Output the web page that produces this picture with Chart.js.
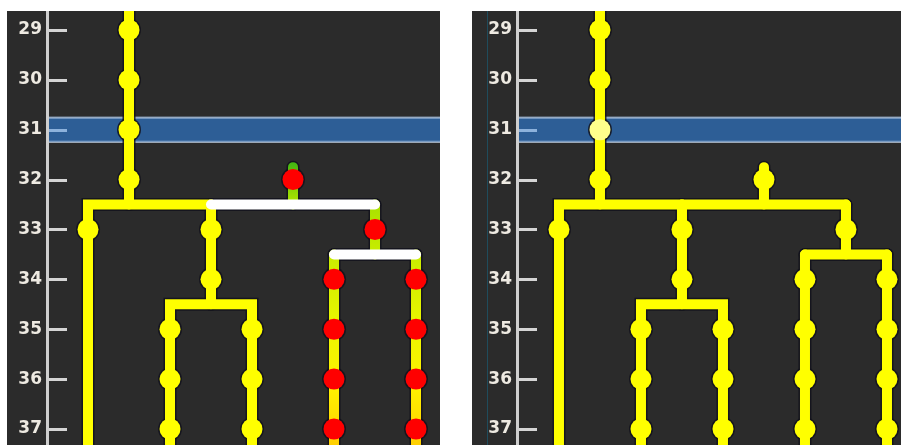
<!DOCTYPE html>
<html><head><meta charset="utf-8">
<script src="https://cdn.jsdelivr.net/npm/chart.js@4.4.1/dist/chart.umd.min.js"></script>
<style>
html,body{margin:0;padding:0;background:#fff;width:901px;height:445px;overflow:hidden;}
.panel{position:absolute;top:11px;height:434px;background:#2b2b2b;}
#p1{left:7px;width:433px;}
#p2{left:472px;width:429px;}
canvas{display:block;}
</style></head><body>
<div class="panel" id="p1"><canvas id="c1" width="433" height="434"></canvas></div>
<div class="panel" id="p2"><canvas id="c2" width="429" height="434"></canvas></div>
<script>
// ---- data: rows (y) and tree columns (x) ----
const yTicks = [29, 30, 31, 32, 33, 34, 35, 36, 37];
const selectedRow = 31;

// edges of the tree, as polylines of [column, row]
const trunk        = [[1, 28.3], [1, 32.5]];
const leftBar      = [[0, 37.8], [0, 32.5], [3, 32.5]];
const midStem      = [[3, 32.5], [3, 34.5]];
const midSub       = [[2, 37.8], [2, 34.5], [4, 34.5], [4, 37.8]];
const rightBar     = [[3, 32.5], [7, 32.5]];
const stub         = [[5, 31.75], [5, 32.5]];
const rightStem    = [[7, 32.5], [7, 33.5]];
const rightSubBar  = [[6, 33.5], [8, 33.5]];
const rightSubL    = [[6, 33.5], [6, 37.8]];
const rightSubR    = [[8, 33.5], [8, 37.8]];

// nodes [column, row]
const trunkNodes  = [[1, 29], [1, 30], [1, 31], [1, 32]];
const plainNodes  = [[0, 33], [3, 33], [3, 34], [2, 35], [2, 36], [2, 37], [4, 35], [4, 36], [4, 37]];
const markedNodes = [[5, 32], [7, 33], [6, 34], [6, 35], [6, 36], [6, 37], [8, 34], [8, 35], [8, 36], [8, 37]];

// ---- styling helpers ----
const YEL = '#ffff00', PALE = '#ffff8c', RED = '#ff0000', WHITE = '#ffffff', OUT = 'rgba(18,18,28,0.85)';
const LW = 10, NR = 10.5;

function greenGrad(ctx) {
  const c = ctx.chart, a = c.chartArea;
  if (!a) return '#ccee00';
  const g = c.ctx.createLinearGradient(0, a.top, 0, a.bottom);
  g.addColorStop(0.0, '#3cb414');
  g.addColorStop(0.343, '#3cb414');
  g.addColorStop(0.435, '#a6e000');
  g.addColorStop(0.55, '#c6ec00');
  g.addColorStop(0.735, '#ecf600');
  g.addColorStop(0.873, '#fff000');
  g.addColorStop(1.0, '#ffcf00');
  return g;
}
const toXY = pts => pts.map(([x, y]) => ({x, y}));
function lineDs(pts, color, width, order) {
  return {type: 'scatter', data: toXY(pts), showLine: true, borderColor: color, borderWidth: width,
    pointRadius: 0, pointHoverRadius: 0, borderCapStyle: 'round', borderJoinStyle: 'miter', order};
}
function nodeDs(pts, color, r, order) {
  return {type: 'scatter', data: toXY(pts), showLine: false, pointRadius: r, pointHoverRadius: r,
    pointBackgroundColor: color, pointBorderWidth: 0, order};
}

const decor = {
  id: 'decor',
  beforeDatasetsDraw(chart, args, opts) {
    const {ctx, chartArea: a, scales: {y}} = chart;
    ctx.save();
    if (opts.sepX) {
      ctx.fillStyle = '#1f4c5c';
      ctx.fillRect(opts.sepX, 0, 1, chart.height);
    }
    const yc = y.getPixelForValue(selectedRow);
    const L = a.left + 2, W = chart.width - L;
    ctx.fillStyle = '#2d5e96';
    ctx.fillRect(L, yc - 13, W, 26);
    ctx.fillStyle = '#c4c8cc';
    ctx.fillRect(L, yc - 13, W, 1);
    ctx.fillRect(L, yc + 12, W, 1);
    ctx.fillStyle = '#86a8cf';
    ctx.fillRect(L, yc - 12, W, 1);
    ctx.fillRect(L, yc + 11, W, 1);
    yTicks.forEach(v => {
      const py = Math.round(y.getPixelForValue(v));
      ctx.fillStyle = v === selectedRow ? '#8db2dc' : '#d4d4d4';
      ctx.fillRect(a.left + 2, py - 1, 18, 3);
    });
    ctx.restore();
  }
};

function makeChart(id, axisW, xMin, xMax, datasets, sepX) {
  return new Chart(document.getElementById(id), {
    data: {datasets},
    options: {
      responsive: false, animation: false, events: [],
      layout: {padding: 0, autoPadding: false},
      plugins: {legend: {display: false}, tooltip: {enabled: false}, decor: {sepX}},
      scales: {
        x: {type: 'linear', min: xMin, max: xMax, display: false},
        y: {
          type: 'linear', reverse: true, min: 28.619, max: 37.321,
          afterBuildTicks: s => { s.ticks = yTicks.map(v => ({value: v})); },
          afterFit: s => { s.width = axisW; s.paddingTop = 0; s.paddingBottom = 0; },
          grid: {display: false, drawTicks: false},
          border: {display: true, color: '#cfcfcf', width: 3},
          ticks: {color: '#eeeae2', padding: 5, font: {family: 'DejaVu Sans', size: 17, weight: 'bold'},
            callback: v => String(v)}
        }
      }
    },
    plugins: [decor]
  });
}

const allEdges = [trunk, leftBar, midStem, midSub, rightBar, stub, rightStem, rightSubBar, rightSubL, rightSubR];
const allNodes = trunkNodes.concat(plainNodes, markedNodes);

// left panel: marked sub-tree
const leftSets = [
  ...allEdges.map(e => lineDs(e, OUT, LW + 3, 6)),
  nodeDs(allNodes, OUT, NR + 1.5, 6),
  ...[stub, rightStem, rightSubL, rightSubR].map(e => lineDs(e, greenGrad, LW, 4)),
  ...[trunk, leftBar, midStem, midSub].map(e => lineDs(e, YEL, LW, 3)),
  ...[rightBar, rightSubBar].map(e => lineDs(e, WHITE, LW, 2)),
  nodeDs(trunkNodes.concat(plainNodes), YEL, NR, 1),
  nodeDs(markedNodes, RED, NR, 1)
];
// right panel: plain tree, selected row highlighted
const rightSets = [
  ...allEdges.map(e => lineDs(e, OUT, LW + 3, 6)),
  nodeDs(allNodes, OUT, NR + 1.5, 6),
  ...allEdges.map(e => lineDs(e, YEL, LW, 3)),
  nodeDs(allNodes.filter(([x, y]) => y !== selectedRow || x !== 1), YEL, NR, 1),
  nodeDs(trunkNodes.filter(([x, y]) => y === selectedRow), PALE, NR, 0)
];

makeChart('c1', 40, -1.0, 8.585, leftSets, null);
makeChart('c2', 45, -1.024, 8.342, rightSets, 15);
</script></body></html>
